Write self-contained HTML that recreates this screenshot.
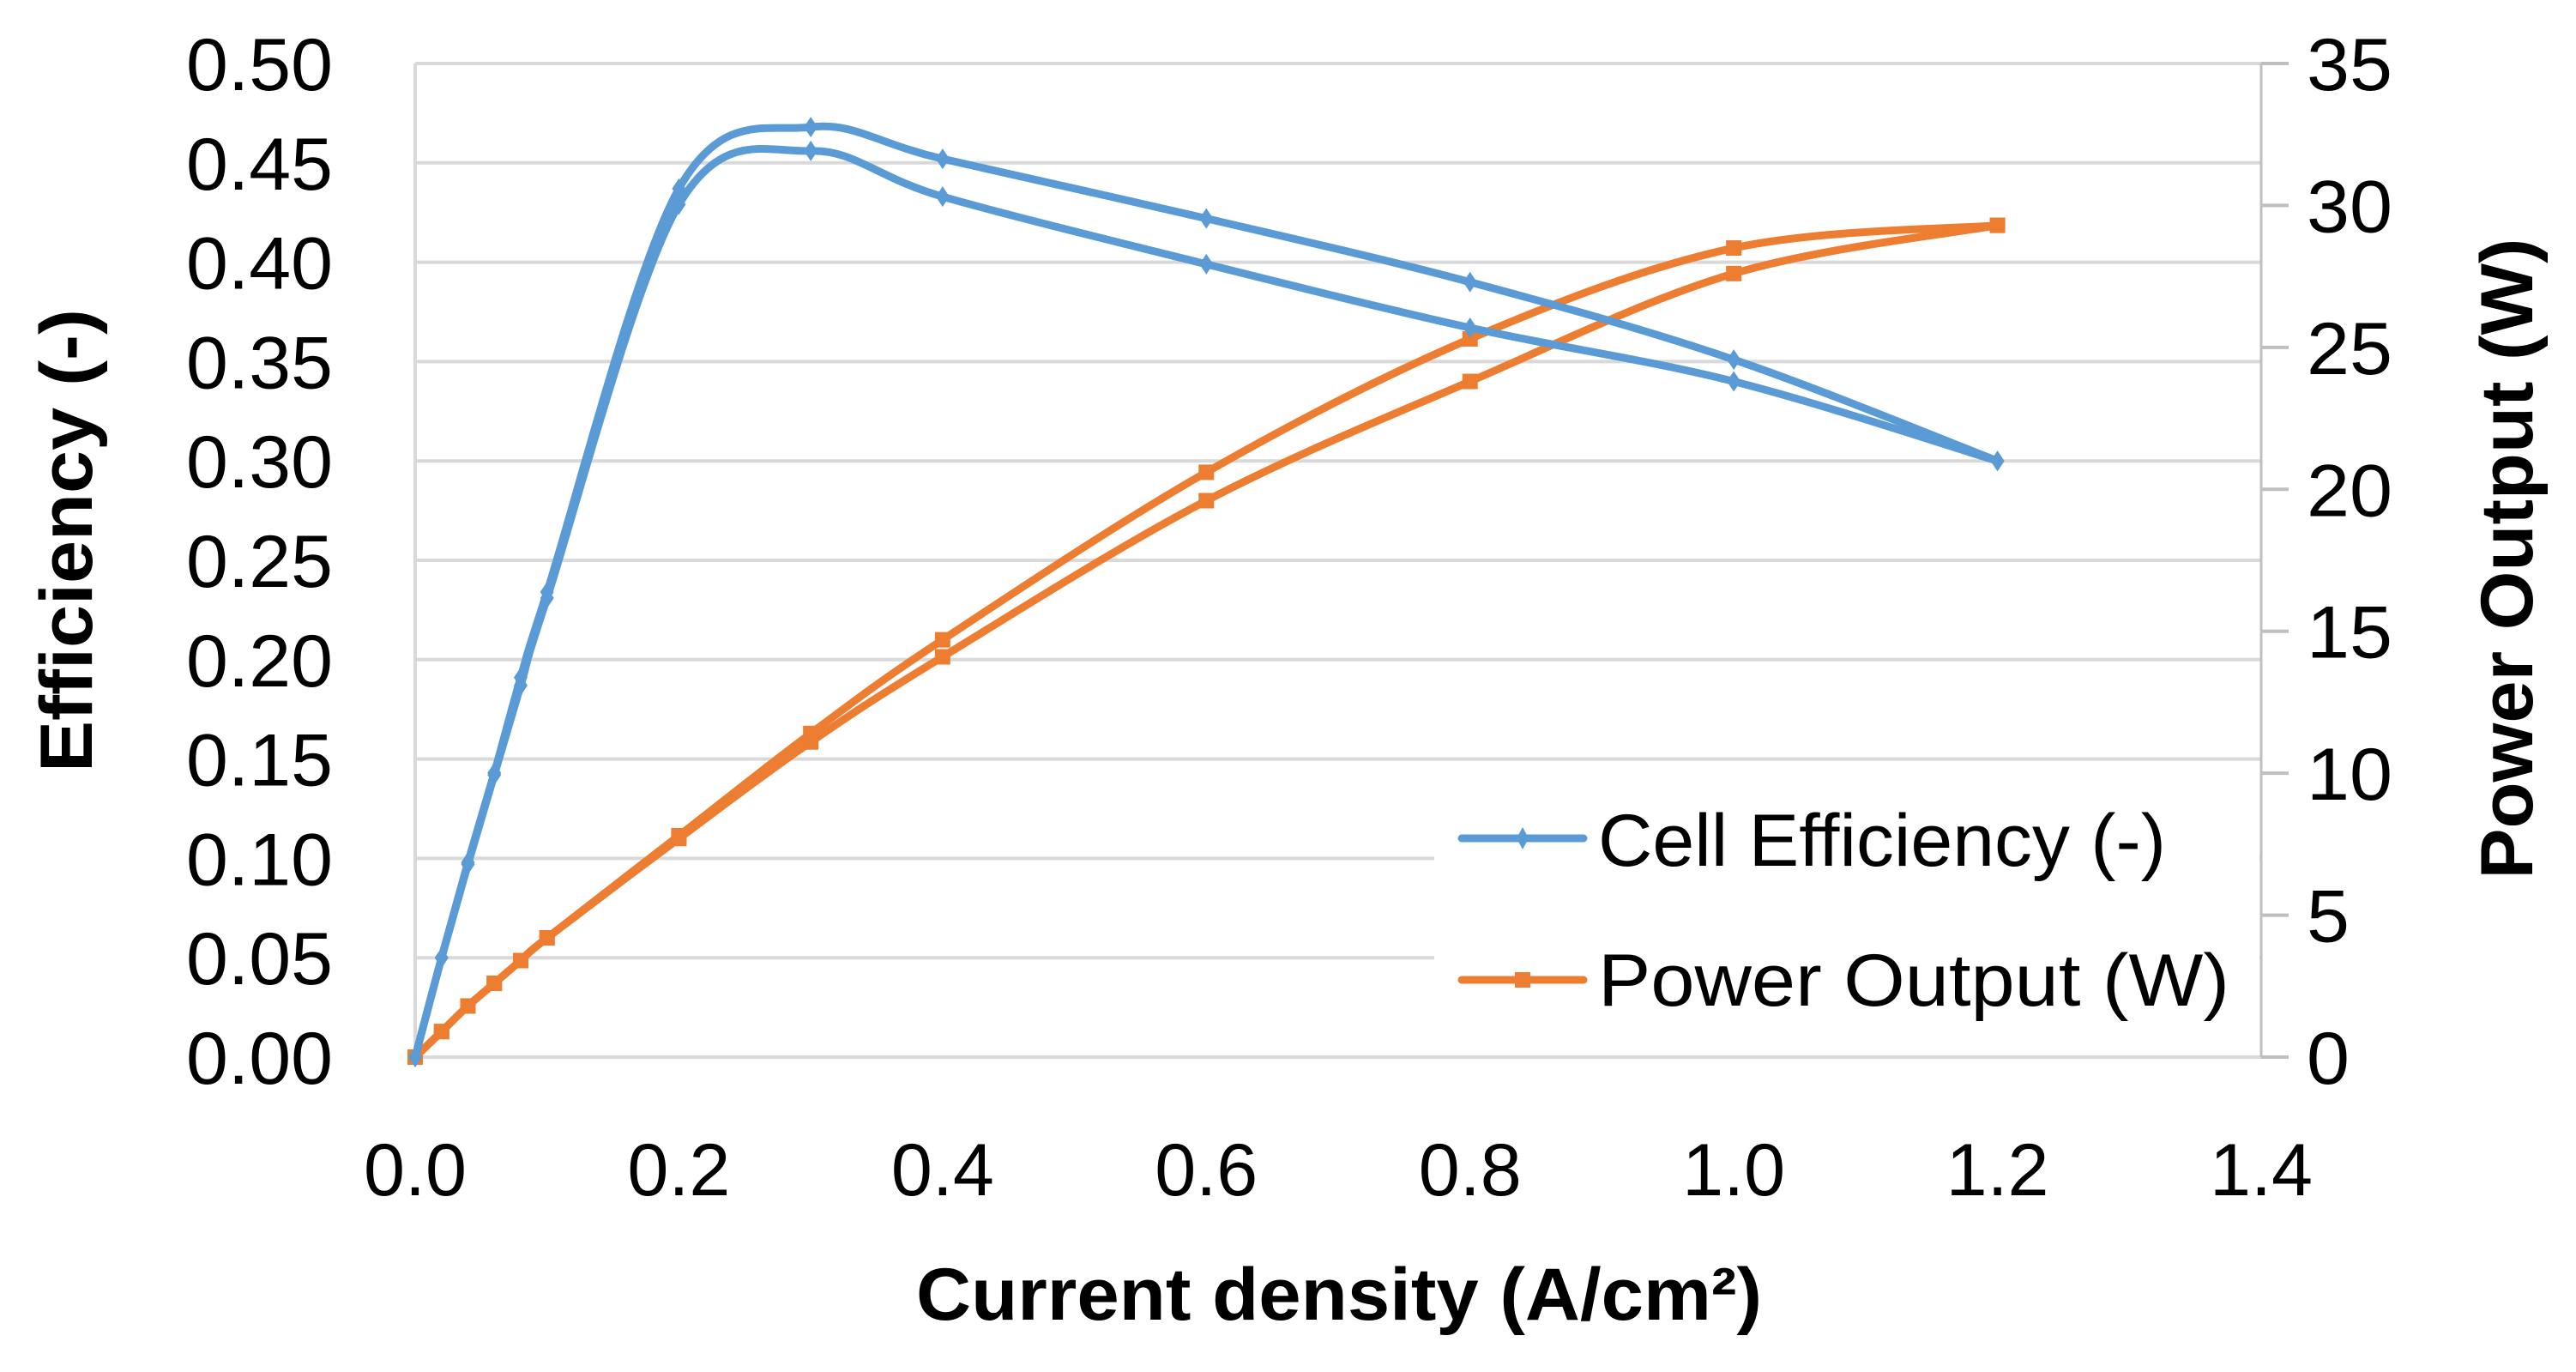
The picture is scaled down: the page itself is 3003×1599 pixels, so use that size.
<!DOCTYPE html>
<html><head><meta charset="utf-8"><style>
html,body{margin:0;padding:0;background:#fff;}
svg{display:block;}
text{font-family:"Liberation Sans",sans-serif;fill:#000;}
</style></head><body>
<svg id="chart" width="3003" height="1599" viewBox="0 0 3003 1599" xmlns="http://www.w3.org/2000/svg">
<rect x="0" y="0" width="3003" height="1599" fill="#fff"/>
<g id="grid"></g>
<g id="axes"></g>
<g id="series"></g>
<g id="legend">
<rect x="1672" y="896" width="962" height="330" fill="#fff"/>
<g>
<line x1="1704" y1="977" x2="1846" y2="977" stroke="#5b9bd5" stroke-width="9" stroke-linecap="round"/>
<path d="M1775 964 L1782 977 L1775 990 L1768 977 Z" fill="#5b9bd5"/>
<text x="1863" y="1009" font-size="86" textLength="662" lengthAdjust="spacingAndGlyphs">Cell Efficiency (-)</text>
</g>
<g>
<line x1="1704" y1="1142" x2="1846" y2="1142" stroke="#ed7d31" stroke-width="9" stroke-linecap="round"/>
<rect x="1766" y="1133" width="18" height="18" fill="#ed7d31"/>
<text x="1863" y="1172" font-size="86" textLength="736" lengthAdjust="spacingAndGlyphs">Power Output (W)</text>
</g>
</g>
<text x="1561" y="1538" font-size="86" font-weight="bold" text-anchor="middle" textLength="986" lengthAdjust="spacingAndGlyphs">Current density (A/cm²)</text>
<text transform="translate(107,630) rotate(-90)" font-size="86" font-weight="bold" text-anchor="middle" textLength="540" lengthAdjust="spacingAndGlyphs">Efficiency (-)</text>
<text transform="translate(2952,651) rotate(-90)" font-size="86" font-weight="bold" text-anchor="middle" textLength="747" lengthAdjust="spacingAndGlyphs">Power Output (W)</text>
</svg>
<script>
const xValues = [0, 0.02, 0.04, 0.06, 0.08, 0.1, 0.2, 0.3, 0.4, 0.6, 0.8, 1.0, 1.2];
const effUpper = [0, 0.050, 0.098, 0.143, 0.191, 0.234, 0.437, 0.468, 0.452, 0.422, 0.390, 0.351, 0.300];
const effLower = [0, 0.050, 0.097, 0.142, 0.187, 0.231, 0.429, 0.456, 0.433, 0.399, 0.367, 0.340, 0.300];
const powUpper = [0, 0.9, 1.8, 2.6, 3.4, 4.2, 7.8, 11.4, 14.7, 20.6, 25.3, 28.5, 29.3];
const powLower = [0, 0.9, 1.8, 2.6, 3.4, 4.2, 7.7, 11.1, 14.1, 19.6, 23.8, 27.6, 29.3];
const xTicks = ["0.0","0.2","0.4","0.6","0.8","1.0","1.2","1.4"];
const yLeftTicks = ["0.00","0.05","0.10","0.15","0.20","0.25","0.30","0.35","0.40","0.45","0.50"];
const yRightTicks = ["0","5","10","15","20","25","30","35"];

const NS = "http://www.w3.org/2000/svg";
const L = 484, R = 2636, T = 74, B = 1232;
const X = v => L + (v / 1.4) * (R - L);
const YL = v => B - (v / 0.5) * (B - T);
const YR = v => B - (v / 35) * (B - T);
function mk(tag, attrs, parent) {
  const e = document.createElementNS(NS, tag);
  for (const k in attrs) e.setAttribute(k, attrs[k]);
  parent.appendChild(e);
  return e;
}
const grid = document.getElementById('grid');
const axes = document.getElementById('axes');
const series = document.getElementById('series');

yLeftTicks.forEach((t, i) => {
  const v = parseFloat(t);
  const y = YL(v);
  const g = mk('line', {x1: L, y1: y, x2: R, y2: y, stroke: '#d9d9d9', 'stroke-width': 4}, grid);
  
  
  const tx = mk('text', {x: 388, y: y + 31, 'font-size': 86, 'text-anchor': 'end', textLength: 171, lengthAdjust: 'spacingAndGlyphs'}, axes);
  tx.textContent = t;
  
  
});
const la = mk('line', {x1: L, y1: T, x2: L, y2: B, stroke: '#d9d9d9', 'stroke-width': 4}, axes);


const ra = mk('line', {x1: R, y1: T, x2: R, y2: B, stroke: '#bfbfbf', 'stroke-width': 3}, axes);


yRightTicks.forEach(t => {
  const v = parseFloat(t);
  const y = YR(v);
  const tk = mk('line', {x1: R, y1: y, x2: R + 32, y2: y, stroke: '#bfbfbf', 'stroke-width': 4}, axes);
  
  
  const tx = mk('text', {x: 2689, y: y + 31, 'font-size': 86, textLength: t.length * 50, lengthAdjust: 'spacingAndGlyphs'}, axes);
  tx.textContent = t;
  
  
});
xTicks.forEach(t => {
  const v = parseFloat(t);
  const tx = mk('text', {x: X(v), y: 1393, 'font-size': 86, 'text-anchor': 'middle', textLength: 120, lengthAdjust: 'spacingAndGlyphs'}, axes);
  tx.textContent = t;
  
  
});

function smoothPath(pts) {
  let d = `M${pts[0][0]},${pts[0][1]}`;
  for (let i = 0; i < pts.length - 1; i++) {
    const p0 = pts[i - 1] || pts[i], p1 = pts[i], p2 = pts[i + 1], p3 = pts[i + 2] || p2;
    const k = 1 / 6;
    const c1 = [p1[0] + (p2[0] - p0[0]) * k, p1[1] + (p2[1] - p0[1]) * k];
    const c2 = [p2[0] - (p3[0] - p1[0]) * k, p2[1] - (p3[1] - p1[1]) * k];
    d += ` C${c1[0]},${c1[1]} ${c2[0]},${c2[1]} ${p2[0]},${p2[1]}`;
  }
  return d;
}
function drawSeries(vals, yf, color, marker, name) {
  const pts = vals.map((v, i) => [X(xValues[i]), yf(v)]);
  const g = mk('g', {}, series);
  
  
  mk('path', {d: smoothPath(pts), fill: 'none', stroke: color, 'stroke-width': 9, 'stroke-linejoin': 'round', 'stroke-linecap': 'round'}, g);
  pts.forEach(p => {
    let m;
    if (marker === 'diamond') {
      m = mk('path', {d: `M${p[0]} ${p[1]-12} L${p[0]+8} ${p[1]} L${p[0]} ${p[1]+12} L${p[0]-8} ${p[1]} Z`, fill: color}, g);
    } else {
      m = mk('rect', {x: p[0] - 9, y: p[1] - 9, width: 18, height: 18, fill: color}, g);
    }
    
    
  });
}
drawSeries(powUpper, YR, '#ed7d31', 'square', 'power-series-upper');
drawSeries(powLower, YR, '#ed7d31', 'square', 'power-series-lower');
drawSeries(effUpper, YL, '#5b9bd5', 'diamond', 'efficiency-series-upper');
drawSeries(effLower, YL, '#5b9bd5', 'diamond', 'efficiency-series-lower');
</script>
</body></html>
